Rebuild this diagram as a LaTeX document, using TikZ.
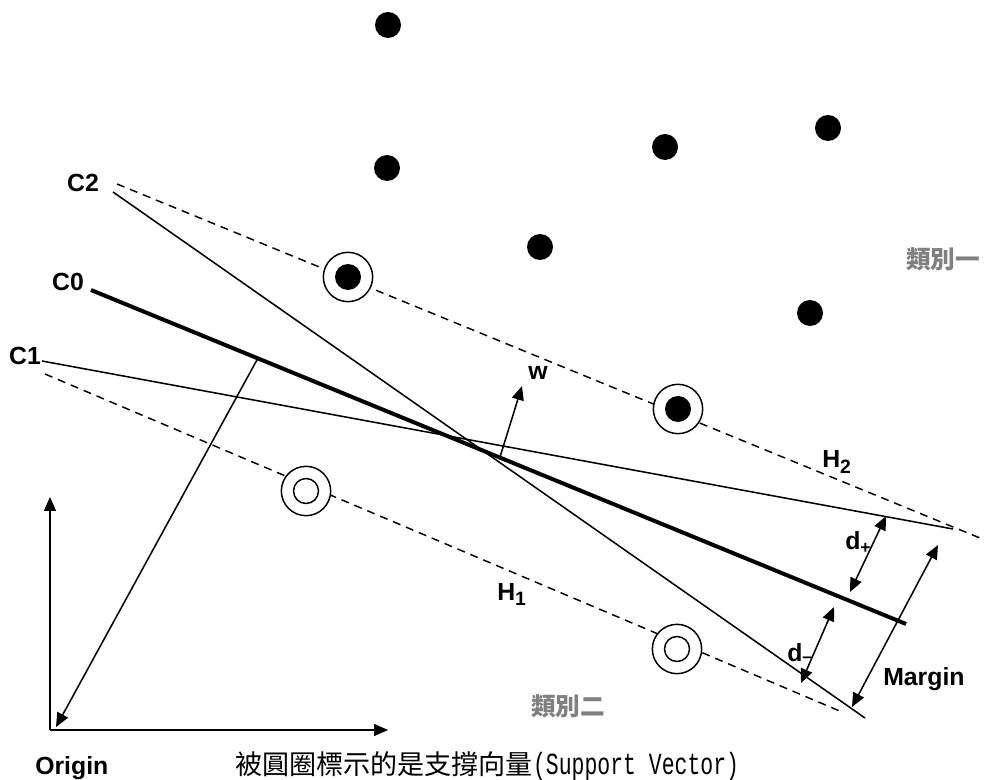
\documentclass[tikz,border=0pt]{standalone}
\usepackage{fontspec}
\setmainfont{Liberation Sans}
\newfontfamily\cjk{Noto Sans CJK TC}
\newfontfamily\monof{Liberation Mono}[FakeStretch=0.7]
\usetikzlibrary{arrows.meta}
\definecolor{classgray}{RGB}{128,128,128}
\newcommand{\bigsub}[1]{\raisebox{-0.45ex}{\fontsize{14.5}{16}\selectfont #1}}
\tikzset{
  thinl/.style={line width=1.15pt},
  thickl/.style={line width=3pt},
  dashl/.style={line width=1.1pt, dash pattern=on 6pt off 4.5pt},
  tip/.tip={Triangle[length=10.5pt,width=9pt]},
  arr/.style={line width=1.15pt, -tip},
  darr/.style={line width=1.15pt, tip-tip},
  lbl/.style={font=\bfseries\fontsize{18.6}{22}\selectfont, inner sep=0pt},
  dot/.style={circle, fill=black, minimum size=19.5pt, inner sep=0pt},
  svring/.style={circle, draw, line width=1.1pt, fill=white, minimum size=37pt, inner sep=0pt},
  svfill/.style={circle, fill=black, minimum size=19.5pt, inner sep=0pt},
  svhole/.style={circle, draw, line width=1.1pt, minimum size=18.75pt, inner sep=0pt},
  clslbl/.style={text=classgray, font=\cjk\bfseries\fontsize{18.5}{22}\selectfont, inner sep=0pt},
}
\begin{document}
\begin{tikzpicture}[x=0.75pt,y=-0.75pt]
\useasboundingbox (0,0) rectangle (986,780);

% filled points (class 1)
\node[dot] (p1) at (388,25) {};
\node[dot] (p2) at (387,168) {};
\node[dot] (p3) at (665,147) {};
\node[dot] (p4) at (828,128) {};
\node[dot] (p5) at (540,247) {};
\node[dot] (p6) at (810,313) {};

% line end coordinates
\coordinate (h2a) at (117,184);
\coordinate (h2b) at (980,538);
\coordinate (h1a) at (45,374);
\coordinate (h1b) at (842,712);
\coordinate (c2a) at (113,192);
\coordinate (c2b) at (865,718);
\coordinate (c0a) at (91,290);
\coordinate (c0b) at (906,624);
\coordinate (c1a) at (42,361);
\coordinate (c1b) at (953,529);

% dashed hyperplanes H2, H1
\draw[dashl] (h2a) -- (h2b);
\draw[dashl] (h1a) -- (h1b);

% lines C2, C1, C0
\draw[thinl] (c2a) -- (c2b);
\draw[thinl] (c1a) -- (c1b);
\draw[thickl] (c0a) -- (c0b);

% support vectors
\node[svring] (sv1) at (348,277) {};
\node[svfill] (sv1i) at (348,277) {};
\node[svring] (sv2) at (678,409) {};
\node[svfill] (sv2i) at (678,409) {};
\node[svring] (sv3) at (306,491) {};
\node[svhole] (sv3i) at (306,491) {};
\node[svring] (sv4) at (677,649) {};
\node[svhole] (sv4i) at (677,649) {};

% axes
\coordinate (org) at (50,730);
\coordinate (yax) at (50,497);
\coordinate (xax) at (388,730);
\draw[arr] (org) -- (yax);
\draw[arr] (org) -- (xax);

% normal from origin to C0
\coordinate (nfoot) at (258,358);
\coordinate (ntip) at (56,727);
\draw[arr] (nfoot) -- (ntip);

% w vector
\coordinate (wa) at (500,457);
\coordinate (wb) at (522,386);
\draw[arr] (wa) -- (wb);

% distance arrows
\coordinate (dpa) at (886,516);
\coordinate (dpb) at (850,592);
\draw[darr] (dpa) -- (dpb);
\coordinate (dma) at (834,607);
\coordinate (dmb) at (801,683);
\draw[darr] (dma) -- (dmb);
\coordinate (ma) at (938,545);
\coordinate (mb) at (852,707);
\draw[darr] (ma) -- (mb);

% labels
\node[lbl] (lc2) at (83,183) {C2};
\node[lbl] (lc0) at (68,282) {C0};
\node[lbl] (lc1) at (25,356) {C1};
\node[lbl, anchor=base west] (lw) at (528,380) {w};
\node[lbl, anchor=base west] (lh2) at (822,468) {H\bigsub{2}};
\node[lbl, anchor=base west] (lh1) at (497,600) {H\bigsub{1}};
\node[lbl, anchor=base west] (ldp) at (845,550) {d\textsubscript{+}};
\node[lbl, anchor=base west] (ldm) at (787,661) {d\textsubscript{\raisebox{0.25ex}{–}}};
\node[lbl, anchor=base west] (lmargin) at (883,685) {Margin};
\node[lbl, anchor=base west] (lorigin) at (35,774) {Origin};

\node[clslbl] (cls1) at (943,259) {類別一};
\node[clslbl] (cls2) at (568,706) {類別二};

\node[anchor=base west, inner sep=0pt] (caption) at (235,774)
  {{\cjk\fontsize{20.3}{24}\selectfont 被圓圈標示的是支撐向量}{\monof\fontsize{23}{24}\selectfont (Support Vector)}};
\end{tikzpicture}
\end{document}
